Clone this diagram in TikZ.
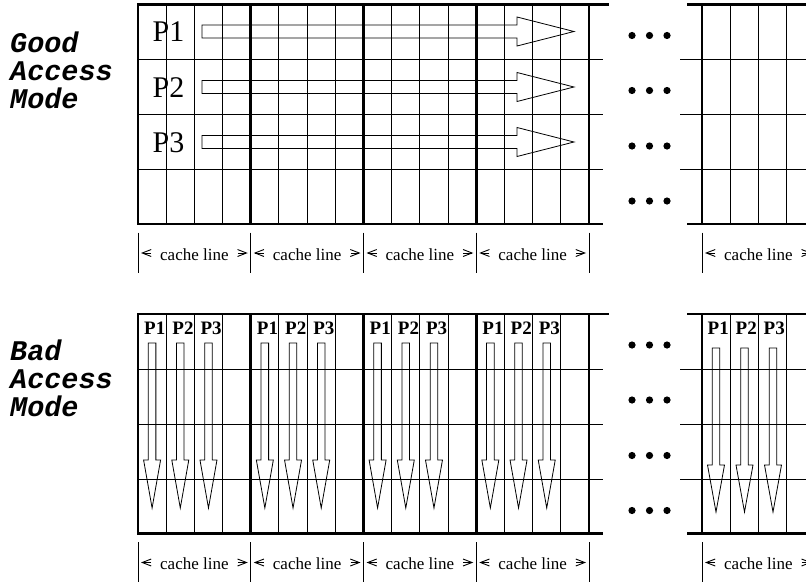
\documentclass[tikz,border=0pt]{standalone}
\usepackage{fontspec}
\setmainfont{Liberation Serif}
\newfontfamily\labmono{Liberation Mono}
\usetikzlibrary{arrows.meta}
\begin{document}
\begin{tikzpicture}[x=1pt,y=-1pt,
  thingrid/.style={line width=0.9pt},
  thickgrid/.style={line width=2.7pt,line cap=rect},
  hollow/.style={line width=0.8pt,line join=miter},
  tickline/.style={line width=0.8pt},
  marker/.style={line width=0.9pt,-{Straight Barb[length=9pt,width=7pt]}},
  modelabel/.style={inner sep=0pt,anchor=base west,font=\labmono\bfseries\itshape\fontsize{28.5}{28.5}\selectfont},
  pbig/.style={inner sep=0pt,anchor=base west,font=\fontsize{30}{30}\selectfont},
  psmall/.style={inner sep=0pt,anchor=base west,font=\bfseries\fontsize{19}{19}\selectfont},
  cachetext/.style={inner sep=0pt,anchor=base,font=\fontsize{17}{17}\selectfont},
  dotmark/.style={fill=black}]
\useasboundingbox (0,0) rectangle (806,586);

% ---- mode labels
\node[modelabel] (good1) at (10,53) {Good};
\node[modelabel] (good2) at (10,80.5) {Access};
\node[modelabel] (good3) at (10,108) {Mode};
\node[modelabel] (bad1) at (10,360) {Bad};
\node[modelabel] (bad2) at (10,388) {Access};
\node[modelabel] (bad3) at (10,416) {Mode};

% ---- two panels
\foreach \yo/\pn in {0/top,309.5/bot}{
\begin{scope}[shift={(0,\yo)}]
  % thin verticals
  \foreach \b in {0,1,2,3}{
    \foreach \k in {1,2,3}{
      \draw[thingrid] ({138+\b*112.75+\k*28.19},4.5) -- ++(0,219.5);
    }
  }
  \foreach \x in {730,758,786}{\draw[thingrid] (\x,4.5) -- (\x,224);}
  % thin rows
  \foreach \y in {59.5,114.5,169.5}{
    \draw[thingrid] (138,\y) -- (603,\y);
    \draw[thingrid] (680,\y) -- (806,\y);
  }
  % thick frame
  \draw[thickgrid] (138,4.5) -- (608,4.5);
  \draw[thickgrid] (138,224) -- (602,224);
  \foreach \b in {0,1,2,3,4}{\draw[thickgrid] ({138+\b*112.75},4.5) -- ++(0,219.5);}
  \draw[thickgrid] (688,4.5) -- (808,4.5);
  \draw[thickgrid] (688,224) -- (808,224);
  \draw[thickgrid] (702,4.5) -- (702,224);
  % dots
  \foreach \y in {35.5,90.5,146,201}{
    \foreach \x in {632,649.5,667}{\fill[dotmark] (\x,\y) circle[radius=3.6pt];}
  }
  % cache line labels
  \foreach \L [count=\i] in {138,250.75,363.5,476.25,702}{
    \draw[tickline] (\L,232.5) -- (\L,272.5);
    \node[cachetext] (cache\pn\i) at ({\L+56.4},260) {cache line};
    \draw[marker] ({\L+13},253) -- ({\L+3},253);
    \draw[marker] ({\L+112.75-13},253) -- ({\L+112.75-3},253);
  }
  \draw[tickline] (589,232.5) -- (589,272.5);
\end{scope}
}

% ---- good access mode: horizontal hollow arrows and labels
\foreach \c/\p [count=\i] in {31.5/P1,87/P2,142/P3}{
  \node[pbig] (gp\i) at (152.5,{\c+10.5}) {\p};
  \draw[hollow] (202,{\c-6.5}) -- (517,{\c-6.5}) -- (517,{\c-14.5}) -- (574,\c)
     -- (517,{\c+14.5}) -- (517,{\c+6.5}) -- (202,{\c+6.5}) -- cycle;
}

% ---- bad access mode: vertical hollow arrows and labels
\foreach \b in {0,1,2,3}{
  \foreach \k/\p in {0/P1,1/P2,2/P3}{
    \pgfmathsetmacro{\cx}{138+\b*112.75+(\k+0.5)*28.19}
    \pgfmathsetmacro{\lx}{138+\b*112.75+\k*28.19+6}
    \node[psmall] (bp\b\k) at (\lx,334) {\p};
    \draw[hollow] ({\cx-3.8},343) -- ({\cx-3.8},460) -- ({\cx-8.5},460) -- (\cx,508)
      -- ({\cx+8.5},460) -- ({\cx+3.8},460) -- ({\cx+3.8},343) -- cycle;
  }
}
\foreach \k/\p in {0/P1,1/P2,2/P3}{
  \pgfmathsetmacro{\cx}{716+\k*28.5}
  \pgfmathsetmacro{\lx}{702+\k*28+5.5}
  \node[psmall] (rp\k) at (\lx,334) {\p};
  \draw[hollow] ({\cx-3.8},348) -- ({\cx-3.8},465) -- ({\cx-8.5},465) -- (\cx,512)
    -- ({\cx+8.5},465) -- ({\cx+3.8},465) -- ({\cx+3.8},348) -- cycle;
}
\end{tikzpicture}
\end{document}
